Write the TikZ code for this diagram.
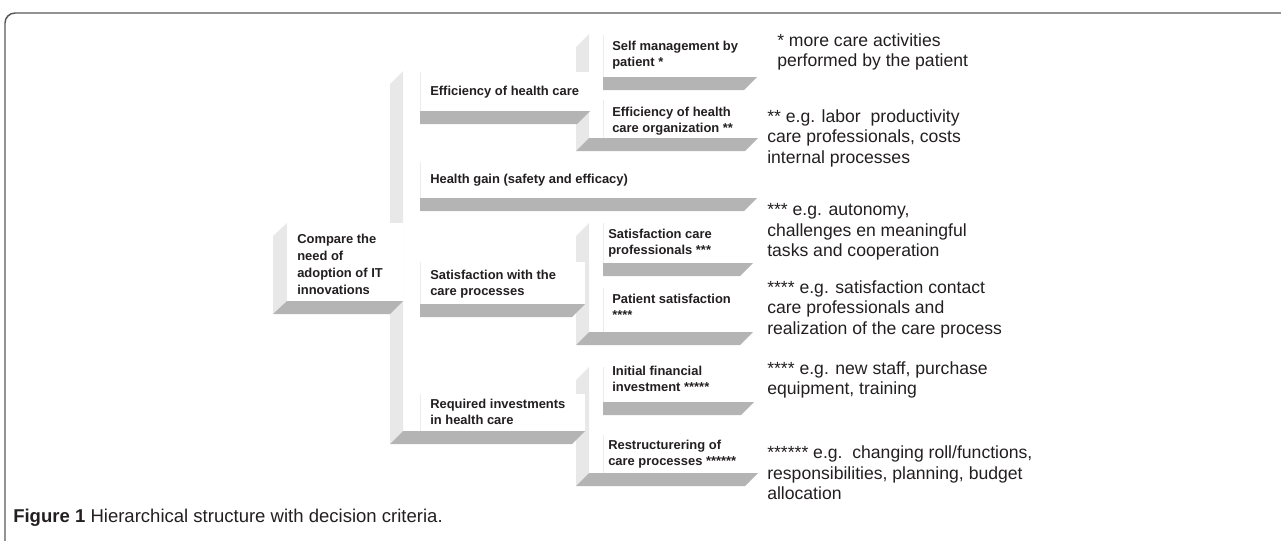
\documentclass[tikz,border=0pt]{standalone}
\usepackage{fontspec}
\setmainfont{Liberation Sans}
\usepackage{tikz}
\definecolor{stripGray}{RGB}{232, 232, 232}
\definecolor{barGray}{RGB}{180, 180, 180}
\definecolor{edgeGray}{RGB}{236, 236, 236}
\definecolor{textGray}{RGB}{35, 31, 32}

\tikzset{
  strip/.style={fill=stripGray},
  bar/.style={fill=barGray},
  face/.style={fill=white},
  faceedge/.style={draw=edgeGray, line width=0.6pt},
  boxtext/.style={anchor=west, align=left, inner sep=0pt, text=textGray,
    font=\bfseries\fontsize{9.7}{12.4}\selectfont},
  note/.style={anchor=west, align=left, inner sep=0pt, text=textGray,
    font=\fontsize{13.2}{15.4}\selectfont}
}

\begin{document}
\begin{tikzpicture}[x=0.75pt, y=-0.75pt]
  \useasboundingbox (0,0) rectangle (1281,540);

  % frame of the figure
  \draw[textGray!75, line width=1.1pt] (5,541) -- (5,23) arc (180:270:10) -- (1282,13);

  % side strips of the third level
  \fill[strip] (576,47) -- (589,34) -- (589,138) -- (576,151) -- cycle;
  \fill[strip] (576,236) -- (589,223) -- (589,332) -- (576,345) -- cycle;
  \fill[strip] (576,380) -- (589,367) -- (589,473) -- (576,486) -- cycle;

  % second level: strip, faces and bars
  \fill[strip] (390,84) -- (403,71) -- (403,431) -- (390,444) -- cycle;
  \fill[face] (420,72) rectangle (590,111);
  \draw[faceedge] (420,72) -- (420,111);
  \fill[bar] (420,111) -- (590,111) -- (577,124) -- (420,124) -- cycle;
  \fill[face] (420,162) rectangle (757,198);
  \draw[faceedge] (420,162) -- (420,198);
  \fill[bar] (420,198) -- (757,198) -- (744,211) -- (420,211) -- cycle;
  \fill[face] (420,262) rectangle (585,304);
  \draw[faceedge] (420,262) -- (420,304);
  \fill[bar] (420,304) -- (585,304) -- (572,317) -- (420,317) -- cycle;
  \fill[face] (420,394) rectangle (585,431);
  \draw[faceedge] (420,394) -- (420,431);
  \fill[bar] (403,431) -- (585,431) -- (572,444) -- (390,444) -- cycle;

  % root box
  \fill[strip] (273,236) -- (287,223) -- (287,301) -- (273,314) -- cycle;
  \fill[face] (287,223) rectangle (403,301);
  \fill[bar] (287,301) -- (403,301) -- (390,314) -- (273,314) -- cycle;

  % third level: faces and bars
  \fill[face] (603,35) rectangle (757,77);
  \draw[faceedge] (603,35) -- (603,77);
  \fill[bar] (603,77) -- (757,77) -- (744,90) -- (603,90) -- cycle;
  \fill[face] (603,100) rectangle (758,138);
  \draw[faceedge] (603,100) -- (603,138);
  \fill[bar] (589,138) -- (758,138) -- (745,151) -- (576,151) -- cycle;
  \fill[face] (603,223) rectangle (753,263);
  \draw[faceedge] (603,223) -- (603,263);
  \fill[bar] (603,263) -- (753,263) -- (740,276) -- (603,276) -- cycle;
  \fill[face] (603,288) rectangle (753,332);
  \draw[faceedge] (603,288) -- (603,332);
  \fill[bar] (589,332) -- (753,332) -- (740,345) -- (576,345) -- cycle;
  \fill[face] (603,367) rectangle (754,402);
  \draw[faceedge] (603,367) -- (603,402);
  \fill[bar] (603,402) -- (754,402) -- (741,415) -- (603,415) -- cycle;
  \fill[face] (603,435) rectangle (758,473);
  \draw[faceedge] (603,435) -- (603,473);
  \fill[bar] (589,473) -- (758,473) -- (745,486) -- (576,486) -- cycle;

  % box labels
  \node[boxtext, font=\bfseries\fontsize{9.7}{12.8}\selectfont] (root) at (297,264)
    {Compare the\\need of\\adoption of IT\\innovations};
  \node[boxtext] (effcare) at (430,92) {Efficiency of health care};
  \node[boxtext] (gain) at (430,180) {Health gain (safety and efficacy)};
  \node[boxtext] (satproc) at (430,284) {Satisfaction with the\\care processes};
  \node[boxtext] (invest) at (430,412) {Required investments\\in health care};
  \node[boxtext] (selfman) at (612,55) {Self management by\\patient *};
  \node[boxtext] (efforg) at (612,121) {Efficiency of health\\care organization **};
  \node[boxtext] (satprof) at (608,243) {Satisfaction care\\professionals ***};
  \node[boxtext] (satpat) at (612,307) {Patient satisfaction\\****};
  \node[boxtext] (initinv) at (612,379) {Initial financial\\investment *****};
  \node[boxtext] (restruct) at (608,454) {Restructurering of\\care processes ******};

  % footnotes
  \node[note] (noteself) at (777,52) {* more care activities\\performed by the patient};
  \node[note] (noteorg) at (767,138) {** e.g. labor\ \ productivity\\care professionals, costs\\internal processes};
  \node[note] (noteprof) at (767,232) {*** e.g. autonomy,\\challenges en meaningful\\tasks and cooperation};
  \node[note] (notepat) at (767,309) {**** e.g. satisfaction contact\\care professionals and\\realization of the care process};
  \node[note] (noteinit) at (767,380) {**** e.g. new staff, purchase\\equipment, training};
  \node[note] (noterestr) at (767,473) {****** e.g.\ \ changing roll/functions,\\responsibilities, planning, budget\\allocation};

  % caption
  \node[anchor=west, inner sep=0pt, text=textGray, font=\fontsize{13.9}{15}\selectfont]
    (caption) at (13,518) {\textbf{Figure 1} Hierarchical structure with decision criteria.};
\end{tikzpicture}
\end{document}
